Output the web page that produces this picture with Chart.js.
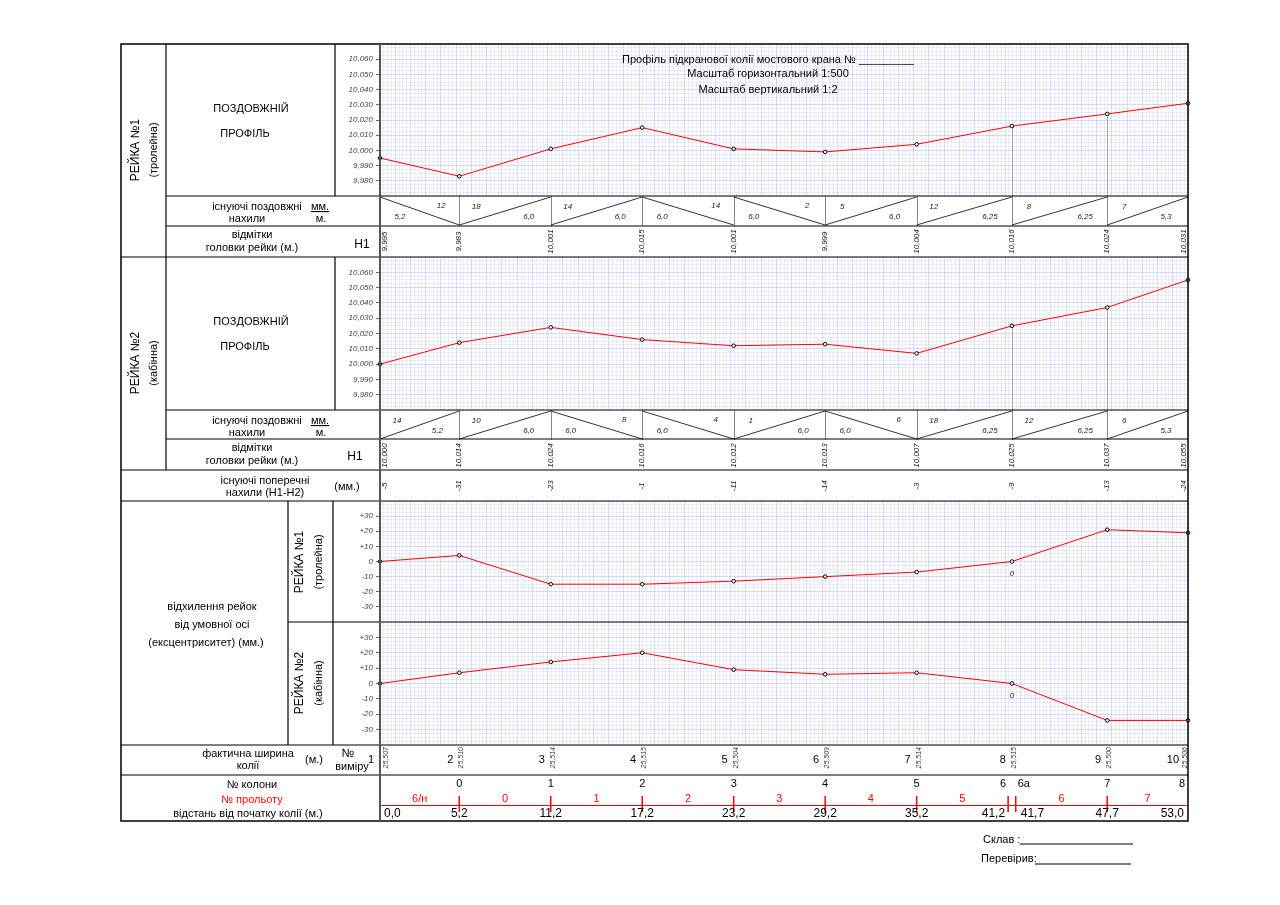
<!DOCTYPE html>
<html>
<head>
<meta charset="utf-8">
<script src="https://cdn.jsdelivr.net/npm/chart.js@4.4.0/dist/chart.umd.min.js"></script>
<style>
body { margin: 0; background: #fff; }
#page { position: relative; width: 1280px; height: 905px; font-family: "Liberation Sans", Arial, sans-serif; }
canvas { position: absolute; }
svg { position: absolute; left: 0; top: 0; }
svg text { font-family: "Liberation Sans", Arial, sans-serif; fill: #000; }
</style>
</head>
<body>
<div id="page">
<canvas id="prof1" width="863" height="213" style="left:335px;top:44px"></canvas>
<canvas id="prof2" width="863" height="244" style="left:335px;top:257px"></canvas>
<canvas id="dev1" width="863" height="121" style="left:335px;top:501px"></canvas>
<canvas id="dev2" width="863" height="199" style="left:335px;top:622px"></canvas>

<svg width="1280" height="905">
  <g stroke="#000" stroke-width="1.2" fill="none">
    <rect x="121" y="44" width="1067" height="777" stroke-width="1.5"/>
    <path d="M166 44V470 M335 44V196 M335 257V410"/>
    <path d="M166 196H1188 M166 226H1188 M121 257H1188"/>
    <path d="M166 410H1188 M166 439H1188 M121 470H1188"/>
    <path d="M121 501H1188 M288 501V745 M333 501V745 M288 622H1188"/>
    <path d="M121 745H1188 M121 775H1188"/>
  </g>
  <path d="M380 44V821" stroke="#555" stroke-width="2"/>

  <g font-size="11" text-anchor="middle">
    <text x="768" y="63">Профіль підкранової колії мостового крана  № _________</text>
    <text x="768" y="77">Масштаб горизонтальний 1:500</text>
    <text x="768" y="93">Масштаб вертикальний 1:2</text>
  </g>

  <g font-size="12" text-anchor="middle">
    <text transform="translate(139,150) rotate(-90)">РЕЙКА №1</text>
    <text transform="translate(157,150) rotate(-90)" font-size="11">(тролейна)</text>
    <text transform="translate(139,363) rotate(-90)">РЕЙКА №2</text>
    <text transform="translate(157,363) rotate(-90)" font-size="11">(кабінна)</text>
    <text transform="translate(303,562) rotate(-90)">РЕЙКА №1</text>
    <text transform="translate(322,562) rotate(-90)" font-size="11">(тролейна)</text>
    <text transform="translate(303,683) rotate(-90)">РЕЙКА №2</text>
    <text transform="translate(322,683) rotate(-90)" font-size="11">(кабінна)</text>
  </g>

  <g font-size="11" text-anchor="middle">
    <text x="251" y="112">ПОЗДОВЖНІЙ</text>
    <text x="245" y="137">ПРОФІЛЬ</text>
    <text x="257" y="210">існуючі поздовжні</text>
    <text x="247" y="222">нахили</text>
    <text x="320" y="210" text-decoration="underline">мм.</text>
    <text x="321" y="222">м.</text>
    <text x="252" y="238">відмітки</text>
    <text x="252" y="251">головки рейки (м.)</text>
    <text x="362" y="248" font-size="12">Н1</text>

    <text x="251" y="325">ПОЗДОВЖНІЙ</text>
    <text x="245" y="350">ПРОФІЛЬ</text>
    <text x="257" y="424">існуючі поздовжні</text>
    <text x="247" y="436">нахили</text>
    <text x="320" y="424" text-decoration="underline">мм.</text>
    <text x="321" y="436">м.</text>
    <text x="252" y="451">відмітки</text>
    <text x="252" y="464">головки рейки (м.)</text>
    <text x="355" y="460" font-size="12">Н1</text>

    <text x="265" y="484">існуючі поперечні</text>
    <text x="265" y="496">нахили (Н1-Н2)</text>
    <text x="347" y="490">(мм.)</text>

    <text x="212" y="610">відхилення рейок</text>
    <text x="212" y="628">від умовної осі</text>
    <text x="206" y="646">(ексцентриситет) (мм.)</text>

    <text x="248" y="757">фактична ширина</text>
    <text x="248" y="769">колії</text>
    <text x="314" y="763">(м.)</text>
    <text x="348" y="757" font-size="12">№</text>
    <text x="352" y="770">виміру</text>

    <text x="252" y="788">№ колони</text>
    <text x="252" y="803" style="fill:#f00">№ прольоту</text>
    <text x="248" y="817">відстань від початку колії (м.)</text>
  </g>

  <g font-size="11">
    <text x="983" y="843">Склав :</text>
    <text x="981" y="862">Перевірив:</text>
  </g>
  <path d="M1020 844H1133 M1035 864H1131" stroke="#000" stroke-width="1"/>
</svg>
</div>

<script>
const dist = [0, 5.2, 11.2, 17.2, 23.2, 29.2, 35.2, 41.45, 47.7, 53.0]
const pointNo = ['1', '2', '3', '4', '5', '6', '7', '8', '9', '10']
const rail1Level = [9.995, 9.983, 10.001, 10.015, 10.001, 9.999, 10.004, 10.016, 10.024, 10.031]
const rail2Level = [10.000, 10.014, 10.024, 10.016, 10.012, 10.013, 10.007, 10.025, 10.037, 10.055]
const rail1SlopeMm = ['12', '18', '14', '14', '2', '5', '12', '8', '7']
const rail1SlopeLen = ['5,2', '6,0', '6,0', '6,0', '6,0', '6,0', '6,25', '6,25', '5,3']
const rail2SlopeMm = ['14', '10', '8', '4', '1', '6', '18', '12', '6']
const rail2SlopeLen = ['5,2', '6,0', '6,0', '6,0', '6,0', '6,0', '6,25', '6,25', '5,3']
const crossSlope = [-5, -31, -23, -1, -11, -14, -3, -9, -13, -24]
const rail1Dev = [0, 4, -15, -15, -13, -10, -7, 0, 21, 19]
const rail2Dev = [0, 7, 14, 20, 9, 6, 7, 0, -24, -24]
const trackWidth = [25.507, 25.510, 25.514, 25.515, 25.504, 25.509, 25.514, 25.515, 25.500, 25.506]
const dropIdx = [7, 8]
const zeroNoteIdx = 7
const colDist = [5.2, 11.2, 17.2, 23.2, 29.2, 35.2, 41.2, 41.7, 47.7, 53.0]
const colNames = ['0', '1', '2', '3', '4', '5', '6', '6а', '7', '8']
const spanNames = ['6/н', '0', '1', '2', '3', '4', '5', '6', '7']
const spanStart = [0, 5.2, 11.2, 17.2, 23.2, 29.2, 35.2, 41.7, 47.7]
const spanEnd = [5.2, 11.2, 17.2, 23.2, 29.2, 35.2, 41.2, 47.7, 53.0]
const distMarks = [0, 5.2, 11.2, 17.2, 23.2, 29.2, 35.2, 41.2, 41.7, 47.7, 53.0]
const distText = ['0,0', '5,2', '11,2', '17,2', '23,2', '29,2', '35,2', '41,2', '41,7', '47,7', '53,0']

const FONT = '"Liberation Sans", Arial, sans-serif'
Chart.defaults.font.family = FONT
const RED = '#ff0000'
const MINOR = 'rgba(170,178,235,0.22)'
const MAJOR = 'rgba(150,160,225,0.38)'

const fmt3 = v => v.toFixed(3).replace('.', ',')
const isStep = (v, s) => Math.abs(v / s - Math.round(v / s)) < 1e-6
const clamp = (v, a, b) => Math.min(b, Math.max(a, v))

function vText(ctx, txt, x, y) {
    ctx.save()
    ctx.translate(x, y)
    ctx.rotate(-Math.PI / 2)
    ctx.fillText(txt, 0, 0)
    ctx.restore()
}

function xScale() {
    return {
        type: 'linear', min: 0, max: 53,
        ticks: { display: false, stepSize: 0.25, autoSkip: false },
        grid: { drawTicks: false, color: c => isStep(c.tick.value, 1) ? MAJOR : MINOR },
        border: { display: false },
        afterFit: s => { s.height = 0; s.paddingLeft = 0; s.paddingRight = 0 }
    }
}

function yScale(min, max, step, isLabel, fmt) {
    return {
        min, max,
        ticks: {
            stepSize: step, autoSkip: false, padding: 3, color: '#444',
            font: { size: 8, style: 'italic' },
            callback: v => isLabel(v) ? fmt(v) : ''
        },
        grid: {
            tickLength: 4,
            color: c => isLabel(c.tick.value) ? MAJOR : MINOR,
            tickColor: c => isLabel(c.tick.value) ? '#666' : 'transparent'
        },
        border: { color: '#555', width: 2 },
        afterFit: s => { s.width = 45; s.paddingTop = 0; s.paddingBottom = 0 }
    }
}

const levelLabel = v => isStep(v, 0.01) && v > 9.975 && v < 10.065
const devLabel = v => isStep(v, 10) && Math.abs(v) <= 30.01
const devFmt = v => { const r = Math.round(v); return r > 0 ? '+' + r : String(r) }

function lineSet(values) {
    return {
        data: dist.map((d, i) => ({ x: d, y: values[i] })),
        borderColor: RED, borderWidth: 1,
        pointRadius: 1.8, pointBackgroundColor: '#fff', pointBorderColor: '#000', pointBorderWidth: 1,
        clip: false
    }
}

function baseOptions(y, bottom) {
    return {
        responsive: false, animation: false,
        layout: { padding: { left: 0, right: 10, top: 0, bottom }, autoPadding: false },
        plugins: { legend: { display: false }, tooltip: { enabled: false } },
        scales: { x: xScale(), y }
    }
}

// drop lines + slope / level (+ cross slope) rows under a profile chart
function profileRows(levels, slopeMm, slopeLen, withCross) {
    return {
        id: 'profileRows',
        beforeDatasetsDraw(chart) {
            const { ctx, chartArea: a, scales: { x, y } } = chart
            ctx.save()
            ctx.strokeStyle = '#aaa'
            ctx.lineWidth = 1
            dropIdx.forEach(i => {
                const px = Math.round(x.getPixelForValue(dist[i])) + 0.5
                ctx.beginPath()
                ctx.moveTo(px, y.getPixelForValue(levels[i]))
                ctx.lineTo(px, a.bottom)
                ctx.stroke()
            })
            ctx.restore()
        },
        afterDraw(chart) {
            const { ctx, chartArea: a, scales: { x } } = chart
            const top = a.bottom, bot = a.bottom + 30
            const lx = d => clamp(x.getPixelForValue(d), a.left + 5, a.right - 4)
            ctx.save()
            ctx.lineWidth = 1
            ctx.strokeStyle = '#888'
            dist.slice(1, -1).forEach(d => {
                const px = Math.round(x.getPixelForValue(d)) + 0.5
                ctx.beginPath(); ctx.moveTo(px, top); ctx.lineTo(px, bot); ctx.stroke()
            })
            ctx.font = 'italic 8px ' + FONT
            ctx.fillStyle = '#222'
            ctx.textBaseline = 'middle'
            for (let i = 0; i < slopeMm.length; i++) {
                const x0 = x.getPixelForValue(dist[i]), x1 = x.getPixelForValue(dist[i + 1])
                const down = levels[i + 1] < levels[i]
                ctx.strokeStyle = '#333'
                ctx.beginPath()
                ctx.moveTo(x0, down ? top + 1 : bot - 1)
                ctx.lineTo(x1, down ? bot - 1 : top + 1)
                ctx.stroke()
                ctx.textAlign = 'center'
                if (down) {
                    ctx.fillText(slopeMm[i], x1 - 18, top + 10)
                    ctx.fillText(slopeLen[i], x0 + 20, bot - 9)
                } else {
                    ctx.fillText(slopeMm[i], x0 + 17, top + 11)
                    ctx.fillText(slopeLen[i], x1 - 22, bot - 9)
                }
            }
            ctx.textAlign = 'center'
            levels.forEach((v, i) => vText(ctx, fmt3(v), lx(dist[i]), bot + 15.5))
            if (withCross) {
                crossSlope.forEach((v, i) => vText(ctx, String(v), lx(dist[i]), bot + 46))
            }
            ctx.restore()
        }
    }
}

const zeroNote = {
    id: 'zeroNote',
    afterDatasetsDraw(chart) {
        const { ctx, scales: { x, y } } = chart
        const vals = chart.data.datasets[0].data
        ctx.save()
        ctx.font = 'italic 8px ' + FONT
        ctx.fillStyle = '#222'
        ctx.textAlign = 'center'
        ctx.textBaseline = 'middle'
        ctx.fillText('0', x.getPixelForValue(vals[zeroNoteIdx].x), y.getPixelForValue(vals[zeroNoteIdx].y) + 12)
        ctx.restore()
    }
}

// track width row + columns / spans / distances
const bottomRows = {
    id: 'bottomRows',
    afterDraw(chart) {
        const { ctx, chartArea: a, scales: { x } } = chart
        const top = a.bottom
        const px = d => x.getPixelForValue(d)
        ctx.save()
        ctx.fillStyle = '#000'
        ctx.textBaseline = 'middle'
        ctx.font = '11px ' + FONT
        ctx.textAlign = 'right'
        pointNo.forEach((n, i) => ctx.fillText(n, px(dist[i]) - (i === pointNo.length - 1 ? 9 : 6), top + 15))
        ctx.font = 'italic 7px ' + FONT
        ctx.fillStyle = '#333'
        trackWidth.forEach((w, i) => {
            vText(ctx, fmt3(w), clamp(px(dist[i]) + 2, a.left + 6, a.right - 3), top + 2)
        })
        const row = top + 30
        ctx.font = '11px ' + FONT
        ctx.fillStyle = '#000'
        colNames.forEach((n, i) => {
            const p = px(colDist[i])
            if (n === '6') { ctx.textAlign = 'right'; ctx.fillText(n, p - 2, row + 9) }
            else if (n === '6а') { ctx.textAlign = 'left'; ctx.fillText(n, p + 2, row + 9) }
            else if (i === colNames.length - 1) { ctx.textAlign = 'right'; ctx.fillText(n, p - 3, row + 9) }
            else { ctx.textAlign = 'center'; ctx.fillText(n, p, row + 9) }
        })
        ctx.strokeStyle = RED
        ctx.lineWidth = 1
        ctx.beginPath()
        ctx.moveTo(px(0), row + 30.5); ctx.lineTo(px(53), row + 30.5)
        ctx.stroke()
        ctx.lineWidth = 1.5
        colDist.slice(0, -1).forEach(d => {
            ctx.beginPath(); ctx.moveTo(px(d), row + 21); ctx.lineTo(px(d), row + 37); ctx.stroke()
        })
        ctx.fillStyle = RED
        ctx.textAlign = 'center'
        spanNames.forEach((n, i) => ctx.fillText(n, (px(spanStart[i]) + px(spanEnd[i])) / 2, row + 24))
        ctx.fillStyle = '#000'
        ctx.font = '12px ' + FONT
        distMarks.forEach((d, i) => {
            const p = px(d)
            if (i === 0) { ctx.textAlign = 'left'; ctx.fillText(distText[i], p + 4, row + 39) }
            else if (distText[i] === '41,2') { ctx.textAlign = 'right'; ctx.fillText(distText[i], p - 3, row + 39) }
            else if (distText[i] === '41,7') { ctx.textAlign = 'left'; ctx.fillText(distText[i], p + 5, row + 39) }
            else if (i === distMarks.length - 1) { ctx.textAlign = 'right'; ctx.fillText(distText[i], p - 4, row + 39) }
            else { ctx.textAlign = 'center'; ctx.fillText(distText[i], p, row + 39) }
        })
        ctx.restore()
    }
}

new Chart(document.getElementById('prof1'), {
    type: 'line',
    data: { datasets: [lineSet(rail1Level)] },
    options: baseOptions(yScale(9.97, 10.07, 0.0025, levelLabel, fmt3), 61),
    plugins: [profileRows(rail1Level, rail1SlopeMm, rail1SlopeLen, false)]
})

new Chart(document.getElementById('prof2'), {
    type: 'line',
    data: { datasets: [lineSet(rail2Level)] },
    options: baseOptions(yScale(9.97, 10.07, 0.0025, levelLabel, fmt3), 91),
    plugins: [profileRows(rail2Level, rail2SlopeMm, rail2SlopeLen, true)]
})

new Chart(document.getElementById('dev1'), {
    type: 'line',
    data: { datasets: [lineSet(rail1Dev)] },
    options: baseOptions(yScale(-40, 40, 2.5, devLabel, devFmt), 0),
    plugins: [zeroNote]
})

new Chart(document.getElementById('dev2'), {
    type: 'line',
    data: { datasets: [lineSet(rail2Dev)] },
    options: baseOptions(yScale(-40, 40, 2.5, devLabel, devFmt), 76),
    plugins: [zeroNote, bottomRows]
})
</script>
</body>
</html>
